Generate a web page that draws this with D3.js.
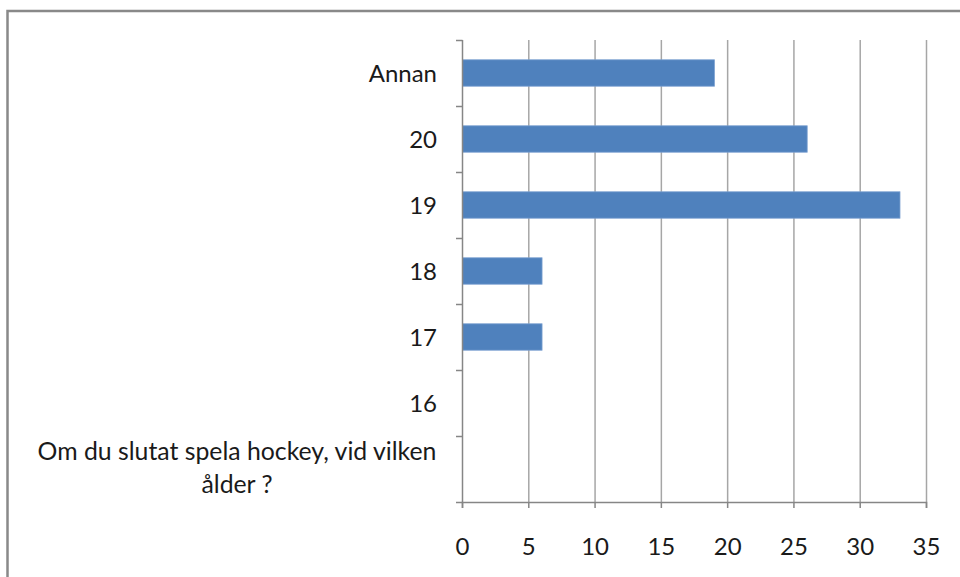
<!DOCTYPE html>
<html>
<head>
<meta charset="utf-8">
<script src="https://cdn.jsdelivr.net/npm/d3@7"></script>
<style>
  body { margin: 0; background: #fff; }
  svg { display: block; }
  text { font-family: Lato, "Open Sans", sans-serif; fill: #1a1a1a; }
</style>
</head>
<body>
<svg id="chart" width="960" height="577"></svg>
<script>
// Data (top to bottom as shown)
const categories = ["Annan", "20", "19", "18", "17", "16", "Om du slutat spela hockey, vid vilken ålder ?"];
const values = [19, 26, 33, 6, 6, 0, 0];
const xTicks = [0, 5, 10, 15, 20, 25, 30, 35];
const longLabelLines = ["Om du slutat spela hockey, vid vilken", "ålder ?"];

const svg = d3.select("#chart");
const margin = { top: 40, left: 462, right: 34, bottom: 75 };
const width = 960 - margin.left - margin.right;
const height = 577 - margin.top - margin.bottom;
const fontSize = "24px";

// chart frame
svg.append("rect")
  .attr("x", 7.5)
  .attr("y", 11)
  .attr("width", 1000)
  .attr("height", 600)
  .attr("fill", "none")
  .attr("stroke", "#898989")
  .attr("stroke-width", 2.5);

const x = d3.scaleLinear().domain([0, 35]).range([0, width]);
const band = d3.scaleBand().domain(categories).range([0, height]);
const y = d3.scaleBand().domain(categories).range([0, height]).paddingInner(0.6).paddingOuter(0.3);

const g = svg.append("g")
  .attr("transform", "translate(" + margin.left + "," + margin.top + ")");

// vertical gridlines
g.append("g")
  .selectAll("line")
  .data(xTicks.slice(1))
  .enter()
  .append("line")
  .attr("x1", d => x(d) + 0.5)
  .attr("x2", d => x(d) + 0.5)
  .attr("y1", 0)
  .attr("y2", height)
  .attr("stroke", "#a6a6a6")
  .attr("stroke-width", 1.5);

// bars
g.append("g")
  .selectAll("rect")
  .data(categories.map((c, i) => ({ c: c, v: values[i] })).filter(d => d.v > 0))
  .enter()
  .append("rect")
  .attr("x", 0.5)
  .attr("y", d => y(d.c))
  .attr("height", y.bandwidth())
  .attr("width", d => x(d.v))
  .attr("fill", "#4f81bd")
  .attr("stroke", "#7a9fd0")
  .attr("stroke-width", 0.8);

// y axis line + ticks
const yAxisG = g.append("g");
yAxisG.append("line")
  .attr("x1", 0.5).attr("x2", 0.5)
  .attr("y1", 0).attr("y2", height)
  .attr("stroke", "#868686").attr("stroke-width", 1.5);
yAxisG.selectAll("line.tick")
  .data(d3.range(categories.length + 1))
  .enter()
  .append("line")
  .attr("class", "tick")
  .attr("x1", -6).attr("x2", 0.5)
  .attr("y1", i => i * band.step() + 0.5)
  .attr("y2", i => i * band.step() + 0.5)
  .attr("stroke", "#868686").attr("stroke-width", 1.5);

// category labels
categories.forEach((c, i) => {
  const cy = band(c) + band.bandwidth() / 2;
  if (i === categories.length - 1) {
    const t = g.append("text")
      .attr("x", -225)
      .attr("y", cy - 19)
      .attr("text-anchor", "middle")
      .attr("dominant-baseline", "central")
      .style("font-size", "24.8px");
    longLabelLines.forEach((l, k) => {
      t.append("tspan").attr("x", -225).attr("dy", k === 0 ? 0 : 33).text(l);
    });
  } else {
    g.append("text")
      .attr("x", -25)
      .attr("y", cy - 1)
      .attr("text-anchor", "end")
      .attr("dominant-baseline", "central")
      .style("font-size", fontSize)
      .text(c);
  }
});

// x axis
const xAxis = d3.axisBottom(x)
  .tickValues(xTicks)
  .tickSize(6)
  .tickFormat(d3.format("d"));
const xAxisG = g.append("g")
  .attr("transform", "translate(0," + height + ")")
  .call(xAxis);
xAxisG.select(".domain").attr("stroke", "#868686").attr("stroke-width", 1.5);
xAxisG.selectAll(".tick line").attr("stroke", "#868686").attr("stroke-width", 1.5);
xAxisG.selectAll(".tick text")
  .attr("y", 45)
  .attr("dy", "0.35em")
  .style("font-size", fontSize)
  .style("font-family", "Lato, 'Open Sans', sans-serif")
  .attr("fill", "#1a1a1a");
</script>
</body>
</html>
